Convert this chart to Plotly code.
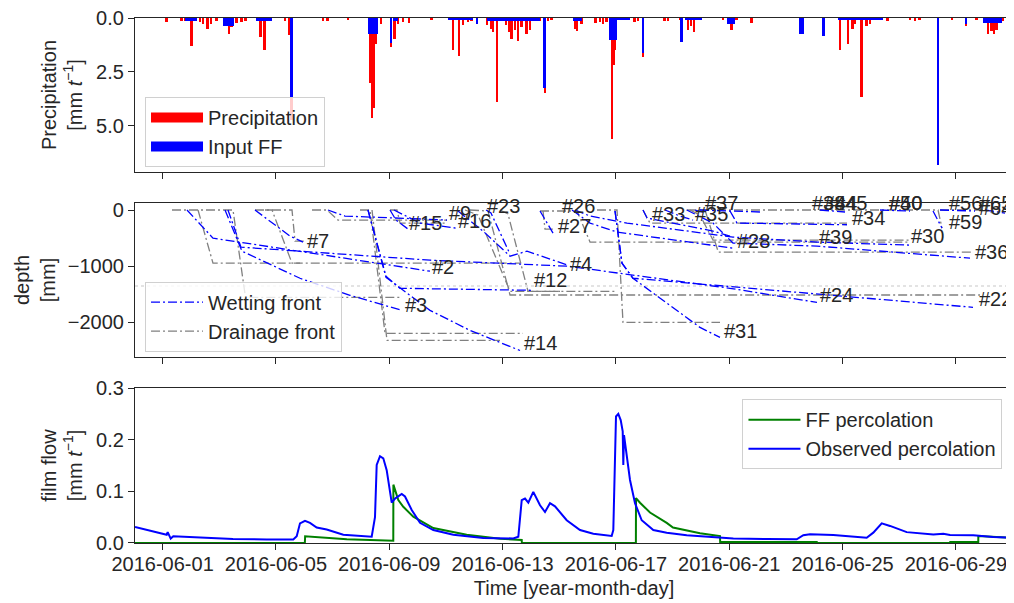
import pandas as pd
import plotly.graph_objects as go
from plotly.subplots import make_subplots

T0 = pd.Timestamp("2016-05-31 00:00")


def tt(days):
    return [T0 + pd.Timedelta(days=float(d)) for d in days]


# ---------------- top panel: precipitation and film-flow input (days since 2016-05-31)
precip_days = [1.14, 1.67, 1.79, 2.03, 2.32, 2.44, 2.59, 2.71, 2.91, 3.35, 3.44, 3.61, 3.79, 3.93,
               4.46, 4.61, 5.32, 5.46, 5.56, 6.67, 6.83, 7.55, 8.32, 8.39, 8.47, 8.54, 8.71, 9.06,
               9.20, 9.32, 9.50, 9.70, 10.50, 11.26, 11.47, 11.61, 11.79, 11.91, 12.46, 12.59,
               12.67, 12.81, 13.12, 13.24, 13.32, 13.44, 13.55, 13.67, 13.85, 13.97, 14.32, 14.50,
               14.61, 14.73, 15.56, 15.64, 15.79, 16.29, 16.44, 16.56, 16.68, 16.86, 16.93, 16.98,
               17.67, 17.79, 17.97, 18.73, 18.85, 19.26, 19.56, 19.65, 19.76, 20.79, 20.97, 21.09,
               21.26, 21.79, 24.91, 25.20, 25.36, 25.44, 25.68, 25.85, 25.97, 26.59, 27.38, 27.56,
               27.73, 28.87, 29.36, 29.74, 30.15, 30.26, 30.35, 30.44, 30.67, 30.91]
precip_vals = [0.19, 0.14, 0.15, 1.31, 0.19, 0.26, 0.49, 0.29, 0.15, 0.76, 0.42, 0.23, 0.19, 0.15,
               0.88, 1.47, 0.12, 0.80, 4.75, 0.15, 0.15, 0.10, 3.04, 4.66, 4.20, 1.20, 0.26, 1.36,
               0.96, 0.30, 0.20, 0.23, 0.10, 1.47, 1.76, 0.34, 0.20, 0.15, 0.34, 0.49,
               0.65, 3.92, 0.34, 0.65, 0.96, 0.57, 1.07, 0.40, 0.76, 0.54, 0.15, 3.50,
               0.15, 0.10, 0.49, 0.60, 0.30, 0.25, 0.20, 0.30, 0.20, 5.63, 2.20, 1.50,
               0.20, 0.15, 1.80, 0.15, 0.12, 0.10, 0.57, 0.35, 0.65, 0.10, 0.20, 0.57,
               0.10, 0.23, 1.50, 1.22, 0.49, 0.30, 3.66, 0.39, 0.26, 0.15, 0.10, 0.15,
               0.10, 0.10, 0.35, 0.10, 0.73, 0.60, 0.76, 0.55, 0.12, 0.60]
ff_start = [1.79, 3.14, 4.29, 5.51, 8.24, 9.03, 9.14, 11.08, 12.05, 12.44, 14.44, 15.50, 16.77,
            17.03, 17.92, 19.26, 19.44, 20.93, 23.46, 24.27, 24.85, 28.34, 29.32, 29.97]
ff_end = [2.20, 3.53, 4.85, 5.60, 8.59, 9.11, 9.32, 11.97, 12.14, 14.32, 14.53, 15.79, 17.03,
          17.50, 18.00, 19.37, 20.03, 21.20, 23.64, 24.37, 26.44, 28.42, 29.40, 30.62]
ff_vals = [0.14, 0.39, 0.12, 3.67, 0.76, 1.16, 0.15, 0.05, 0.26, 0.14, 3.24, 0.15, 1.04,
           0.05, 1.62, 1.12, 0.08, 0.28, 0.76, 0.84, 0.10, 6.83, 0.30, 0.22]

# ---------------- middle panel: wetting / drainage fronts (days, depth in mm)
wet_days = [
    [1.860, 2.778, 10.438],
    [3.202, 3.801, 5.849, 7.614, 9.449],
    [3.307, 3.766, 10.438, 15.309, 21.027, 24.098],
    [4.260, 5.496, 5.955],
    [6.837, 7.437, 11.038],
    [8.249, 8.884, 9.379, 14.003],
    [8.249, 8.884, 10.438, 11.850, 13.615],
    [9.026, 9.238, 9.661],
    [9.167, 10.085, 11.356],
    [11.426, 12.309, 13.262, 13.862, 15.309],
    [12.415, 12.591, 13.262],
    [14.321, 14.780],
    [15.556, 16.086, 17.391, 21.133, 24.098, 27.381],
    [15.450, 16.086, 17.039, 21.133],
    [19.499, 20.427, 21.133, 24.098, 29.499],
    [16.968, 17.215, 17.603, 18.803, 19.968, 20.674],
    [16.968, 17.215, 17.603, 29.605],
    [17.956, 18.097, 20.427, 21.133],
    [18.733, 19.262, 19.721],
    [21.027, 21.274, 25.157],
    [28.193, 28.510],
    [19.792, 20.074],
    [19.968, 22.086],
    [24.204, 25.086],
    [26.322, 27.381],
    [28.440, 29.676],
    [30.028, 30.734],
]
wet_depths = [
    [0, -502, -1093],
    [0, -735, -1219, -1523, -1792],
    [0, -663, -896, -1004, -1398, -1649],
    [0, -466, -573],
    [0, -108, -179],
    [0, -1183, -1398, -1434],
    [0, -1201, -1792, -2150, -2509],
    [0, -179, -340],
    [0, -233, -323],
    [-18, -376, -824, -735, -986],
    [0, -54, -788],
    [-18, -412],
    [0, -108, -233, -484, -573, -627],
    [0, -233, -394, -681],
    [0, -233, -590, -645, -860],
    [-18, -950, -1219, -1667, -2097, -2276],
    [-18, -950, -1219, -1738],
    [0, -143, -376, -484],
    [0, -108, -179],
    [-18, -233, -263],
    [-18, -323],
    [0, -36],
    [0, -36],
    [0, -36],
    [0, -18],
    [0, -18],
    [0, -54],
]
drain_days = [
    [1.331, 3.484, 3.925, 9.379],
    [2.249, 2.778, 13.615],
    [4.260, 5.567, 5.673, 6.025],
    [4.614, 4.861, 5.567, 5.849],
    [6.273, 6.802, 7.190, 11.038],
    [7.967, 8.320, 8.850, 13.721],
    [8.391, 8.920, 12.909],
    [9.026, 9.273, 9.379, 11.038],
    [11.850, 12.485, 13.262, 29.852],
    [11.673, 12.132, 13.262, 17.039],
    [12.909, 13.191, 13.897, 15.027],
    [14.321, 15.627, 16.086, 27.381],
    [14.427, 14.497, 14.780],
    [16.333, 17.039, 17.250, 20.674],
    [19.499, 20.145, 20.614, 29.605],
    [17.956, 18.203, 25.157],
    [19.615, 19.968, 20.427, 27.381],
    [19.968, 28.369, 28.510],
    [28.440, 30.028, 30.300],
]
drain_depths = [
    [0, 0, -1559, -1559],
    [0, -950, -950],
    [0, 0, -556, -556],
    [0, 0, -950, -950],
    [0, 0, -179, -179],
    [0, 0, -2204, -2204],
    [0, -2330, -2330],
    [0, 0, -233, -233],
    [0, -18, -1518, -1518],
    [0, -90, -1452, -1452],
    [0, -72, -1452, -1452],
    [-18, -18, -573, -573],
    [-18, -340, -340],
    [0, 0, -2007, -2007],
    [0, 0, -753, -753],
    [0, -233, -233],
    [0, -90, -538, -538],
    [0, 0, -323],
    [0, 0, -54],
]
reference_depth = -1357

label_text = ["#7", "#2", "#3", "#15", "#9", "#16", "#23", "#26", "#27", "#4", "#12", "#14",
              "#33", "#35", "#37", "#28", "#31", "#39", "#34", "#38", "#44", "#45", "#40", "#50",
              "#30", "#59", "#56", "#65", "#64", "#36", "#24", "#22"]
label_days = [6.025, 10.44, 9.485, 9.626, 11.04, 11.356, 12.38, 15.03, 14.885, 15.31, 14.04, 13.685,
              18.20, 19.72, 20.07, 21.20, 20.745, 24.10, 25.26, 23.85, 24.27, 24.63, 26.57, 26.58,
              27.35, 28.69, 28.69, 29.75, 29.75, 29.60, 24.13, 29.75]
label_depths = [-556, -1021, -1695, -233, -54, -197, 72, 72, -287, -968, -1254, -2383,
                -72, -72, 125, -556, -2168, -484, -143, 125, 125, 125, 125, 125,
                -466, -215, 125, 125, 36, -744, -1523, -1595]

# ---------------- bottom panel: percolation
obs_days = [0.025, 0.438, 0.907, 1.144, 1.179, 1.285, 1.377, 2.319, 3.484, 4.673, 5.612, 5.733,
            5.849, 6.025, 6.202, 6.438, 6.791, 7.377, 8.203, 8.380, 8.496, 8.556, 8.673, 8.789,
            8.909, 9.086, 9.202, 9.439, 9.555, 9.792, 10.085, 10.554, 11.260, 12.319, 13.378,
            13.555, 13.675, 13.791, 13.908, 14.084, 14.321, 14.497, 14.673, 14.850, 15.263,
            15.733, 16.202, 16.851, 16.908, 17.003, 17.084, 17.169, 17.240, 17.261, 17.286,
            17.381, 17.497, 17.674, 17.910, 18.320, 18.793, 19.499, 20.438, 21.144, 22.323,
            23.382, 23.615, 23.851, 24.673, 25.852, 26.085, 26.382, 26.675, 27.264, 28.203,
            28.556, 28.793, 29.615, 30.321, 31.027]
obs_vals = [0.031, 0.025, 0.019, 0.016, 0.021, 0.0085, 0.013, 0.0105, 0.0078, 0.0068, 0.0068, 0.013,
            0.038, 0.043, 0.039, 0.030, 0.026, 0.016, 0.012, 0.012, 0.050, 0.151, 0.168, 0.164,
            0.141, 0.078, 0.086, 0.095, 0.090, 0.064, 0.039, 0.025, 0.016, 0.0095, 0.0088,
            0.012, 0.083, 0.086, 0.078, 0.099, 0.073, 0.060, 0.077, 0.071, 0.044,
            0.025, 0.018, 0.0136, 0.025, 0.245, 0.250, 0.238, 0.216, 0.151, 0.209,
            0.167, 0.122, 0.077, 0.044, 0.025, 0.020, 0.015, 0.012, 0.0088, 0.0078,
            0.007, 0.015, 0.017, 0.0155, 0.0102, 0.020, 0.038, 0.033, 0.021, 0.0162,
            0.018, 0.0155, 0.0149, 0.0117, 0.0097]
ffp_days = [0.025, 6.02, 6.03, 7.5, 9.142, 9.145, 9.319, 9.495, 9.848, 10.554, 11.733, 12.909,
            13.675, 13.68, 17.705, 17.709, 17.850, 18.203, 18.793, 19.015, 19.968, 20.321, 20.674,
            20.68, 24.088, 24.09, 28.793, 28.80, 29.790, 29.792, 31.027]
ffp_vals = [0, 0, 0.013, 0.007, 0.0043, 0.113, 0.083, 0.070, 0.051, 0.029, 0.016, 0.008,
            0.006, 0, 0, 0.087, 0.078, 0.059, 0.039, 0.030, 0.019, 0.0165, 0.0135,
            0.002, 0.002, 0, 0, 0.002, 0.002, 0.0136, 0.0097]

x_range = [0.025, 31.016]

# ---------------- figure
INK = "#262626"
FONT = "Arial, Liberation Sans, sans-serif"
fig = make_subplots(rows=3, cols=1, shared_xaxes=True)

fig.add_trace(go.Bar(x=tt(precip_days), y=precip_vals, width=1.6 * 3600e3,
                     marker=dict(color="#ff0000", line=dict(width=0)), name="Precipitation",
                     showlegend=False), row=1, col=1)
ff_mid = [(a + b) / 2 for a, b in zip(ff_start, ff_end)]
ff_w = [(b - a) * 86400e3 for a, b in zip(ff_start, ff_end)]
fig.add_trace(go.Bar(x=tt(ff_mid), y=ff_vals, width=ff_w,
                     marker=dict(color="#0000ff", line=dict(width=0)), name="Input FF",
                     showlegend=False), row=1, col=1)
# legend patches (wide rectangles like the bar legend handles)
for nm, col in (("Precipitation", "#ff0000"), ("Input FF", "#0000ff")):
    fig.add_trace(go.Scatter(x=[None], y=[None], mode="lines", name=nm,
                             line=dict(color=col, width=14), legend="legend"), row=1, col=1)

for i, (d, z) in enumerate(zip(drain_days, drain_depths)):
    fig.add_trace(go.Scatter(x=tt(d), y=z, mode="lines",
                             line=dict(color="#808080", width=1.3, dash="9px,3px,2px,3px"),
                             name="Drainage front", showlegend=(i == 0), legend="legend2",
                             legendrank=2), row=2, col=1)
for i, (d, z) in enumerate(zip(wet_days, wet_depths)):
    fig.add_trace(go.Scatter(x=tt(d), y=z, mode="lines",
                             line=dict(color="#0000ff", width=1.3, dash="9px,3px,2px,3px"),
                             name="Wetting front", showlegend=(i == 0), legend="legend2",
                             legendrank=1), row=2, col=1)

fig.add_trace(go.Scatter(x=tt(ffp_days), y=ffp_vals, mode="lines",
                         line=dict(color="#008000", width=2), name="FF percolation",
                         legend="legend3"), row=3, col=1)
fig.add_trace(go.Scatter(x=tt(obs_days), y=obs_vals, mode="lines",
                         line=dict(color="#0000ff", width=2), name="Observed percolation",
                         legend="legend3"), row=3, col=1)

fig.add_shape(type="line", xref="x2 domain", yref="y2", x0=0, x1=1,
              y0=reference_depth, y1=reference_depth,
              line=dict(color="#c8c8c8", width=1.2, dash="dot"), layer="below")

for txt, d, z in zip(label_text, label_days, label_depths):
    fig.add_annotation(x=tt([d])[0], y=z, xref="x2", yref="y2", text=txt, showarrow=False,
                       xanchor="left", yanchor="middle", font=dict(size=20, color=INK, family=FONT))

axis_common = dict(showline=True, mirror=True, linecolor=INK, linewidth=1.25, ticks="outside",
                   ticklen=6, tickwidth=1.25, tickcolor=INK, showgrid=False, zeroline=False,
                   automargin=False, ticklabeloverflow="allow",
                   tickfont=dict(size=20, color=INK, family=FONT))

date_ticks = tt([1, 5, 9, 13, 17, 21, 25, 29])
xr = tt(x_range)
for k in (1, 2, 3):
    fig.update_layout(**{f"xaxis{'' if k == 1 else k}": dict(
        axis_common, range=xr, tickvals=date_ticks, tickformat="%Y-%m-%d",
        showticklabels=(k == 3), type="date")})

fig.update_layout(
    xaxis3=dict(ticklabelstandoff=-3,
                title=dict(text="Time [year-month-day]", standoff=6,
                           font=dict(size=20, color=INK, family=FONT))),
    yaxis=dict(axis_common, domain=[0.7067, 1.0], range=[7.15, -0.0005],
               tickvals=[0, 2.5, 5.0], ticktext=["0.0", "2.5", "5.0"],
               title=dict(text="Precipitation<br>[mm <i>t</i><sup>−1</sup>]", standoff=8,
                          font=dict(size=20, color=INK, family=FONT))),
    yaxis2=dict(axis_common, domain=[0.3543, 0.6476], range=[-2625, 125],
                tickvals=[0, -1000, -2000], ticktext=["0", "−1000", "−2000"],
                title=dict(text="depth<br>[mm]", standoff=6,
                           font=dict(size=20, color=INK, family=FONT))),
    yaxis3=dict(axis_common, domain=[0.0, 0.2952], range=[-0.00005, 0.3001],
                tickvals=[0, 0.1, 0.2, 0.3], ticktext=["0.0", "0.1", "0.2", "0.3"],
                title=dict(text="film flow<br>[mm <i>t</i><sup>−1</sup>]", standoff=8,
                           font=dict(size=20, color=INK, family=FONT))),
)

legend_common = dict(bgcolor="rgba(255,255,255,0.8)", bordercolor="#d0d0d0", borderwidth=1,
                     font=dict(size=20, color=INK, family=FONT), xanchor="left", yanchor="top",
                     itemwidth=52, tracegroupgap=0)
fig.update_layout(
    legend=dict(legend_common, x=0.0114, y=0.8495),
    legend2=dict(legend_common, x=0.0114, y=0.4977),
    legend3=dict(legend_common, x=0.988, y=0.274, xanchor="right"),
    barmode="overlay", bargap=0,
    width=1006, height=595, margin=dict(l=127, r=1, t=10, b=60, autoexpand=False),
    paper_bgcolor="white", plot_bgcolor="white",
    font=dict(family=FONT, size=20, color=INK),
)

fig.write_html("out.html")
